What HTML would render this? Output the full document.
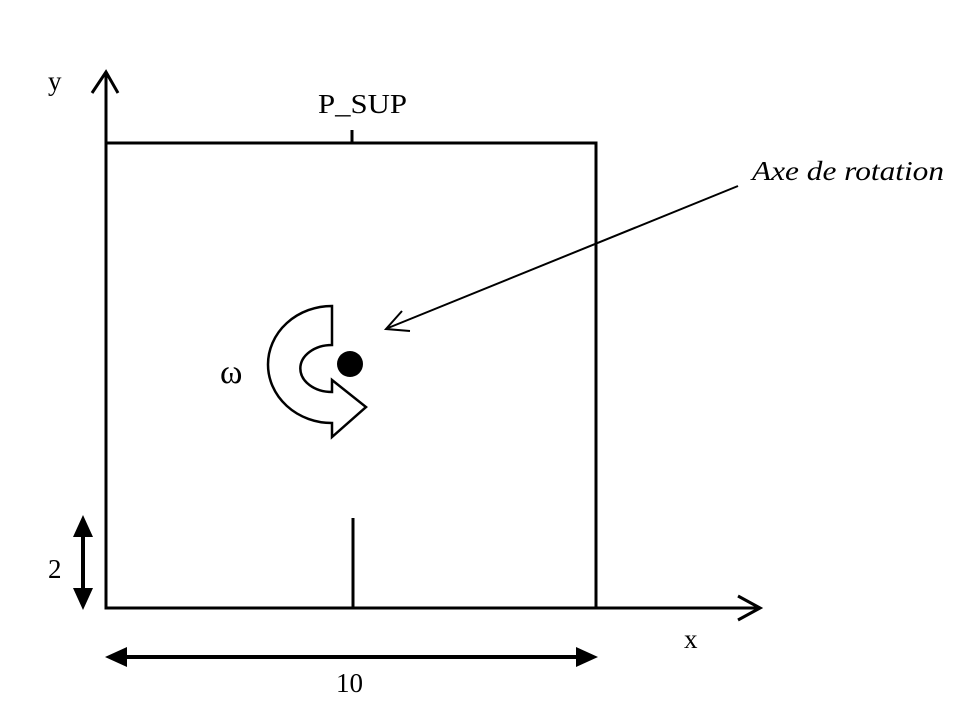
<!DOCTYPE html>
<html><head><style>body{margin:0;background:#fff}</style></head><body>
<svg width="979" height="701" viewBox="0 0 979 701" xmlns="http://www.w3.org/2000/svg" style="display:block">
<g stroke="#000" stroke-width="3" fill="none">
<rect x="106" y="143" width="490" height="465"/>
<line x1="106" y1="608" x2="106" y2="75"/>
<line x1="596" y1="608" x2="758" y2="608"/>
<path d="M92,93 L106,72 L118,93"/>
<path d="M738,596 L760,608 L738,620"/>
<line x1="352" y1="130" x2="352" y2="143"/>
<line x1="353" y1="518" x2="353" y2="608"/>
</g>
<g stroke="#000" stroke-width="4">
<line x1="83" y1="530" x2="83" y2="595"/>
<line x1="125" y1="657" x2="578" y2="657"/>
</g>
<g fill="#000">
<polygon points="73,537 93,537 83,515"/>
<polygon points="73,588 93,588 83,610"/>
<polygon points="127,647 127,667 105,657"/>
<polygon points="576,647 576,667 598,657"/>
<circle cx="350" cy="364" r="13"/>
</g>
<line x1="738" y1="186" x2="388" y2="328" stroke="#000" stroke-width="2"/>
<path d="M402,311 L386,329 L410,331" fill="none" stroke="#000" stroke-width="2"/>
<path d="M332,306 L332,345 A31,23 0 0 0 332,392 L332,380 L366,407 L332,437 L332,423 A64,58.5 0 0 1 268,364.5 A64,58.5 0 0 1 332,306 Z" fill="#fff" stroke="#000" stroke-width="2.5" stroke-linejoin="miter"/>
<g font-family="Liberation Serif, serif" font-size="27" fill="#000">
<text x="48" y="90">y</text>
<text x="318" y="113" textLength="89" lengthAdjust="spacingAndGlyphs">P_SUP</text>
<text x="752" y="180" font-style="italic" textLength="192" lengthAdjust="spacingAndGlyphs">Axe de rotation</text>
<text x="220" y="383" font-size="34">ω</text>
<text x="48" y="578">2</text>
<text x="684" y="648">x</text>
<text x="336" y="692">10</text>
</g>
</svg>
</body></html>
